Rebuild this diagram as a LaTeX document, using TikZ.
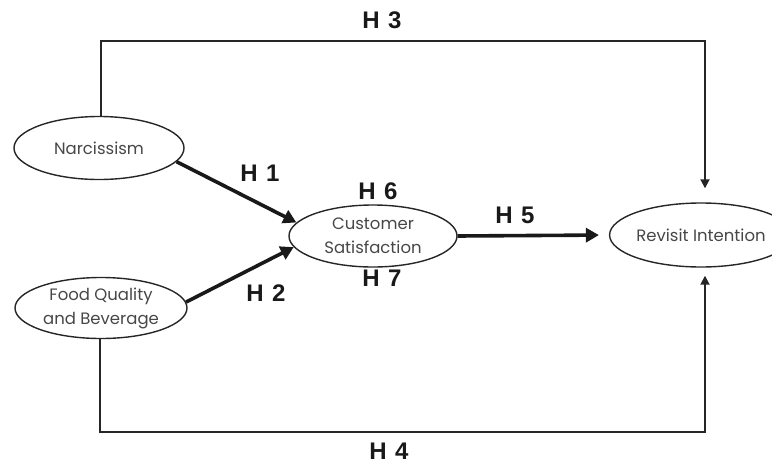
\documentclass[tikz,border=0pt]{standalone}
\usepackage{fontspec}
\setmainfont{Poppins}
\newfontfamily\labelfont[WordSpace=1.25]{Liberation Sans}
\usetikzlibrary{shapes.geometric,arrows.meta}
\begin{document}
\begin{tikzpicture}[x=1pt,y=-1pt,
  construct/.style={ellipse,draw=black!85,line width=1.4pt,minimum width=#1,
    inner sep=0pt,align=center,font=\fontsize{16.5}{24}\selectfont,text=black!72},
  construct/.default=170pt,
  hyp/.style={font=\labelfont\bfseries\fontsize{24}{26}\selectfont,text=black!90},
  path/.style={line width=3.6pt,draw=black!90,-{Triangle[length=13pt,width=14pt]}},
  link/.style={line width=1.8pt,draw=black!85,-{Triangle[length=9pt,width=9pt]}}]
\useasboundingbox (0,0) rectangle (772,464);
\begin{scope}
\clip (0,0) rectangle (772,464);
\node[construct, minimum height=63pt] (nar) at (99,148) {Narcissism};
\node[construct=172pt, minimum height=61pt] (food) at (101,308) {Food Quality\\and Beverage};
\node[construct=168pt, minimum height=62pt] (cs) at (373,236) {Customer\\Satisfaction};
\node[construct=178pt, minimum height=64pt] (ri) at (701,235) {Revisit Intention};
\end{scope}

\coordinate (topL) at (101,41);
\coordinate (topR) at (705,41);
\coordinate (botL) at (100,432);
\coordinate (botR) at (705,432);

\draw[path] (nar.-10) -- (cs.170);
\draw[path] (food.4) -- (cs.-172);
\draw[path,shorten >=10pt] (cs.east) -- (ri.west);
\draw[link,shorten >=14pt] (nar.north -| topL) -- (topL) -- (topR) -- (topR |- ri.north);
\draw[link,shorten >=8pt] (food.south -| botL) -- (botL) -- (botR) -- (botR |- ri.south);

\node[hyp] (h3) at (382,20) {H 3};
\node[hyp] (h4) at (389,451) {H 4};
\node[hyp] (h1) at (260,173) {H 1};
\node[hyp] (h2) at (266,293) {H 2};
\node[hyp] (h6) at (378,191) {H 6};
\node[hyp] (h7) at (382,278) {H 7};
\node[hyp] (h5) at (515,215) {H 5};
\end{tikzpicture}
\end{document}
